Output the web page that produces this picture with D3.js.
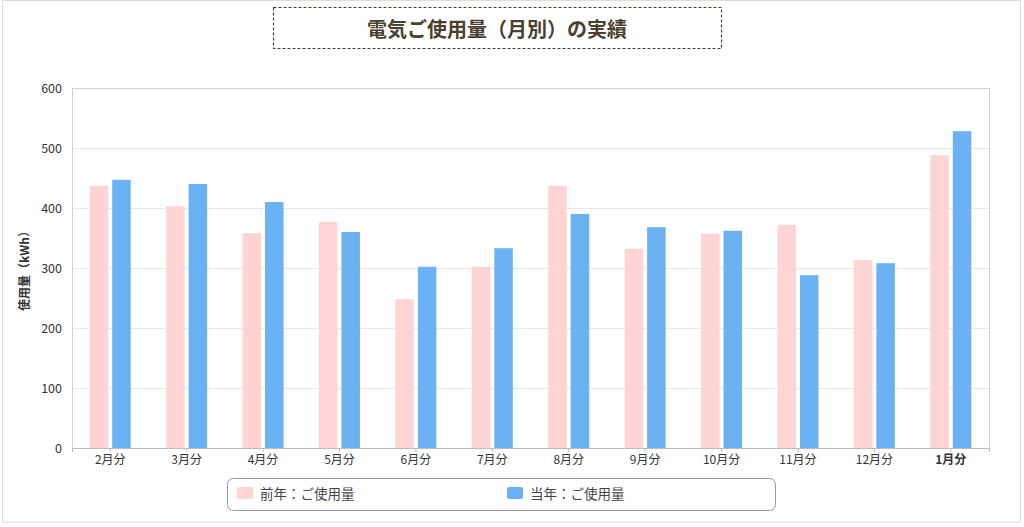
<!DOCTYPE html>
<html><head><meta charset="utf-8">
<script src="https://cdn.jsdelivr.net/npm/d3@7"></script>
<style>
html,body{margin:0;padding:0;background:#fff;}
svg{display:block;font-family:"Noto Sans CJK JP","Noto Sans",sans-serif;}
</style></head>
<body><svg id="c" width="1024" height="527"></svg>
<script>
const categories = ["2月分","3月分","4月分","5月分","6月分","7月分","8月分","9月分","10月分","11月分","12月分","1月分"];
const prevYear = [437, 403, 358, 377, 248, 302, 437, 332, 357, 372, 313, 488];
const currYear = [447, 440, 410, 360, 302, 333, 390, 368, 362, 288, 308, 528];
const seriesNames = ["前年：ご使用量", "当年：ご使用量"];
const yTicks = [0, 100, 200, 300, 400, 500, 600];
const title = "電気ご使用量（月別）の実績";
const yLabel = "使用量（kWh）";

const colors = ["#ffd4d2", "#6ab2f2"];
const svg = d3.select("#c");
const m = {l:72, r:989, t:88, b:448};

// outer frame
svg.append("rect").attr("x",2.5).attr("y",0.5).attr("width",1018).attr("height",521.5)
  .attr("fill","none").attr("stroke","#dcdcdc");

// title
svg.append("rect").attr("x",273.5).attr("y",7.5).attr("width",448).attr("height",41)
  .attr("fill","#fff").attr("stroke","#4a4030").attr("stroke-dasharray","3,2").attr("stroke-width",1.2);
svg.append("text").attr("x",497).attr("y",28).attr("text-anchor","middle").attr("dominant-baseline","central")
  .attr("font-size",20).attr("font-weight","bold").attr("fill","#4a4030").text(title);

const x = d3.scaleBand().domain(categories).range([m.l, m.r]).paddingInner(0).paddingOuter(0);
const y = d3.scaleLinear().domain([0,600]).range([m.b, m.t]);

// gridlines
svg.append("g").selectAll("line").data(yTicks.slice(1,-1)).join("line")
  .attr("x1",m.l).attr("x2",m.r).attr("y1",d=>y(d)+0.5).attr("y2",d=>y(d)+0.5)
  .attr("stroke","#e8e8e8");

// frame of plot
svg.append("rect").attr("x",m.l+0.5).attr("y",m.t+0.5).attr("width",m.r-m.l).attr("height",m.b-m.t)
  .attr("fill","none").attr("stroke","#d0d0d0");

// bars
const barW = 18.5, gap = 4;
[prevYear, currYear].forEach((vals, si) => {
  svg.append("g").selectAll("rect").data(vals).join("rect")
    .attr("x",(d,i)=> x(categories[i]) + x.bandwidth()/2 + (si===0 ? -(barW+gap/2) : gap/2))
    .attr("width", barW)
    .attr("y", d=>y(d)).attr("height", d=>y(0)-y(d))
    .attr("fill", colors[si]);
});

// y axis
const ya = svg.append("g").attr("transform",`translate(${m.l},0)`)
  .call(d3.axisLeft(y).tickValues(yTicks).tickSize(0).tickPadding(10));
ya.select(".domain").remove();
ya.selectAll("text").attr("font-size",12.5).attr("fill","#333").attr("font-family","'Noto Sans CJK JP',sans-serif");

// x axis
const xa = svg.append("g").attr("transform",`translate(0,${m.b})`)
  .call(d3.axisBottom(x).tickSize(4).tickPadding(3));
xa.select(".domain").attr("stroke","#bbb");
xa.selectAll(".tick line").attr("stroke","#bbb");
xa.selectAll("text").attr("font-size",12).attr("fill","#333").attr("font-family","'Noto Sans CJK JP',sans-serif")
  .attr("font-weight",d=> d==="1月分" ? "bold" : "normal");

// y label
svg.append("text").attr("transform","translate(23,268) rotate(-90)").attr("text-anchor","middle")
  .attr("dominant-baseline","central").attr("font-size",12).attr("font-weight","bold").attr("fill","#333").text(yLabel);

// legend
svg.append("rect").attr("x",227.5).attr("y",478.5).attr("width",548).attr("height",32).attr("rx",6)
  .attr("fill","#fff").attr("stroke","#999");
const lx = [237, 507];
seriesNames.forEach((n,i)=>{
  svg.append("rect").attr("x",lx[i]).attr("y",487).attr("width",16).attr("height",12).attr("rx",2).attr("fill",colors[i]);
  svg.append("text").attr("x",lx[i]+23).attr("y",493).attr("dominant-baseline","central")
    .attr("font-size",13.5).attr("fill","#444").text(n);
});
</script></body></html>
